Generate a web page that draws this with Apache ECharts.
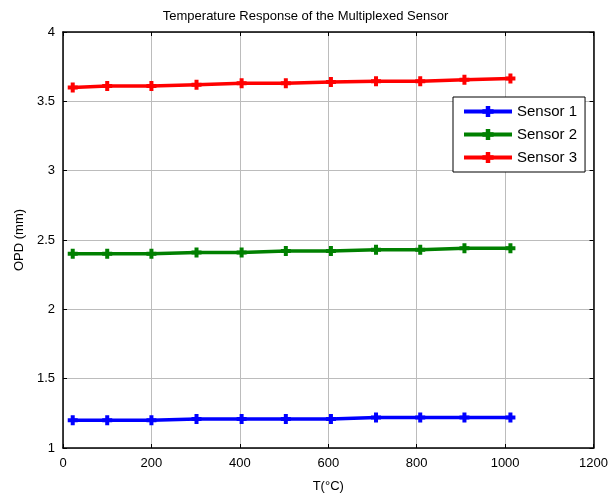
<!DOCTYPE html>
<html>
<head>
<meta charset="utf-8">
<script src="https://cdn.jsdelivr.net/npm/echarts@6/dist/echarts.min.js"></script>
<style>
  html, body { margin: 0; padding: 0; background: #fff; }
  #chart { width: 611px; height: 502px; }
</style>
</head>
<body>
<div id="chart"></div>
<script>
// Temperature points (°C)
const temperature = [22, 100, 200, 302, 404, 504, 606, 708, 808, 908, 1012];
// Optical path difference (mm) per sensor
const sensor1 = [1.20, 1.20, 1.20, 1.21, 1.21, 1.21, 1.21, 1.22, 1.22, 1.22, 1.22];
const sensor2 = [2.40, 2.40, 2.40, 2.41, 2.41, 2.42, 2.42, 2.43, 2.43, 2.44, 2.44];
const sensor3 = [3.60, 3.61, 3.61, 3.62, 3.63, 3.63, 3.64, 3.645, 3.645, 3.655, 3.665];
const seriesNames = ['Sensor 1', 'Sensor 2', 'Sensor 3'];
const seriesColors = ['#0000ff', '#008000', '#ff0000'];

const FONT = 'Liberation Sans, Arial, sans-serif';
// Bold plus marker
const plus = 'path://M3,0 L7,0 L7,3 L10,3 L10,7 L7,7 L7,10 L3,10 L3,7 L0,7 L0,3 L3,3 Z';

function pairs(ys) { return temperature.map((t, i) => [t, ys[i]]); }

const chart = echarts.init(document.getElementById('chart'), null, { renderer: 'canvas' });

const gridLine = { show: true, lineStyle: { color: '#bcbcbc', width: 1, type: 'solid' } };
const tickIn = { show: true, inside: true, length: 4, lineStyle: { color: '#000' } };
const axisLine = { show: true, onZero: false, lineStyle: { color: '#000', width: 1.5 } };

chart.setOption({
  backgroundColor: '#fff',
  animation: false,
  title: {
    text: 'Temperature Response of the Multiplexed Sensor',
    left: 'center', top: 5,
    textStyle: { fontFamily: FONT, fontSize: 13, fontWeight: 'normal', color: '#000' }
  },
  grid: { left: 63, right: 17, top: 32, bottom: 54, containLabel: false },
  legend: {
    orient: 'vertical',
    left: 453, top: 97,
    padding: [7, 8, 7, 9],
    itemGap: 8,
    itemWidth: 48,
    itemHeight: 14,
    backgroundColor: '#fff',
    borderColor: '#000',
    borderWidth: 1,
    borderRadius: 0,
    data: seriesNames,
    lineStyle: { width: 4 },
    textStyle: { fontFamily: FONT, fontSize: 15, color: '#000', padding: [0, 0, 0, 0] }
  },
  xAxis: [{
    type: 'value', min: 0, max: 1200, interval: 200, position: 'bottom',
    name: 'T(°C)', nameLocation: 'middle', nameGap: 32,
    nameTextStyle: { fontFamily: FONT, fontSize: 13, color: '#000' },
    axisLine: axisLine,
    axisTick: tickIn,
    axisLabel: { fontFamily: FONT, fontSize: 13, color: '#000', margin: 9,
      formatter: v => String(v) },
    splitLine: gridLine
  }, {
    type: 'value', min: 0, max: 1200, interval: 200, position: 'top',
    axisLine: axisLine,
    axisTick: tickIn, axisLabel: { show: false }, splitLine: { show: false }
  }],
  yAxis: [{
    type: 'value', min: 1, max: 4, interval: 0.5, position: 'left',
    name: 'OPD (mm)', nameLocation: 'middle', nameGap: 37,
    nameTextStyle: { fontFamily: FONT, fontSize: 13, color: '#000' },
    axisLine: axisLine,
    axisTick: tickIn,
    axisLabel: { fontFamily: FONT, fontSize: 13, color: '#000', margin: 8,
      formatter: v => String(Math.round(v * 10) / 10) },
    splitLine: gridLine
  }, {
    type: 'value', min: 1, max: 4, interval: 0.5, position: 'right',
    axisLine: axisLine,
    axisTick: tickIn, axisLabel: { show: false }, splitLine: { show: false }
  }],
  series: [sensor1, sensor2, sensor3].map((ys, i) => ({
    name: seriesNames[i],
    type: 'line',
    data: pairs(ys),
    xAxisIndex: 0, yAxisIndex: 0,
    symbol: plus,
    symbolSize: 10,
    showAllSymbol: true,
    itemStyle: { color: seriesColors[i] },
    lineStyle: { color: seriesColors[i], width: 3.5 }
  }))
});
</script>
</body>
</html>
